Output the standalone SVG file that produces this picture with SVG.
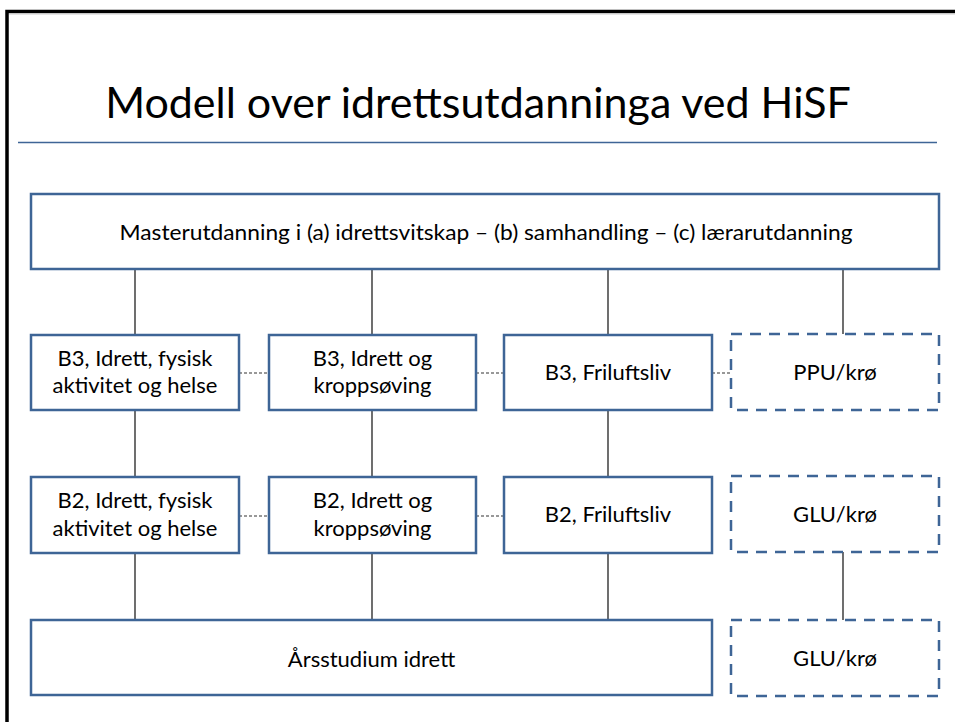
<svg xmlns="http://www.w3.org/2000/svg" width="955" height="722" viewBox="0 0 955 722">
<style>
.box{fill:#fff;stroke:#3E6596;stroke-width:2.5}
.dbox{fill:#fff;stroke:#3E6596;stroke-width:2.5;stroke-dasharray:11 8}
.t{font-family:Lato,"Liberation Sans",sans-serif;font-size:22px;fill:#000;text-anchor:middle}
.c{stroke:#222;stroke-width:1.3;fill:none}
.d{stroke:#333;stroke-width:1.2;stroke-dasharray:3 2;fill:none}
</style>
<rect width="955" height="722" fill="#fff"/>
<path d="M7,730 V11.5 H960" fill="none" stroke="#000" stroke-width="3.5"/>
<path d="M9,14 H960" stroke="#ccc" stroke-width="1"/>
<text x="478" y="118" style="font-family:Lato,'Liberation Sans',sans-serif;font-size:43px;text-anchor:middle;fill:#000">Modell over idrettsutdanninga ved HiSF</text>
<line x1="18" y1="142.5" x2="937" y2="142.5" stroke="#3E6596" stroke-width="1.5"/>
<g id="connectors">
<path class="c" d="M135,270V335M372,270V335M608,270V335M843,270V334"/>
<path class="c" d="M135,410V477M372,410V477M608,410V477"/>
<path class="c" d="M135,553V620M372,553V620M608,553V620M843,552V620"/>
<path class="d" d="M239,373H269M476,373H504M712,373H731M239,516H269M476,516H504"/>
</g>
<g id="master"><rect class="box" x="31" y="194" width="908" height="75"/><text class="t" x="486" y="240" textLength="733" lengthAdjust="spacingAndGlyphs">Masterutdanning i (a) idrettsvitskap – (b) samhandling – (c) lærarutdanning</text></g>
<g id="b3-ifah"><rect class="box" x="31" y="335" width="208" height="75"/><text class="t" x="135" y="366">B3, Idrett, fysisk</text><text class="t" x="135" y="393">aktivitet og helse</text></g>
<g id="b3-ik"><rect class="box" x="269" y="335" width="207" height="75"/><text class="t" x="372.5" y="366">B3, Idrett og</text><text class="t" x="372.5" y="393">kroppsøving</text></g>
<g id="b3-fl"><rect class="box" x="504" y="335" width="208" height="75"/><text class="t" x="608" y="380">B3, Friluftsliv</text></g>
<g id="ppu"><rect class="dbox" x="731" y="334" width="208" height="76"/><text class="t" x="835" y="380">PPU/krø</text></g>
<g id="b2-ifah"><rect class="box" x="31" y="477" width="208" height="76"/><text class="t" x="135" y="508">B2, Idrett, fysisk</text><text class="t" x="135" y="536">aktivitet og helse</text></g>
<g id="b2-ik"><rect class="box" x="269" y="477" width="207" height="76"/><text class="t" x="372.5" y="508">B2, Idrett og</text><text class="t" x="372.5" y="536">kroppsøving</text></g>
<g id="b2-fl"><rect class="box" x="504" y="477" width="208" height="76"/><text class="t" x="608" y="522">B2, Friluftsliv</text></g>
<g id="glu1"><rect class="dbox" x="731" y="476" width="208" height="76"/><text class="t" x="835" y="522">GLU/krø</text></g>
<g id="arsstudium"><rect class="box" x="31" y="620" width="681" height="75"/><text class="t" x="371.5" y="667">Årsstudium idrett</text></g>
<g id="glu2"><rect class="dbox" x="731" y="620" width="208" height="76"/><text class="t" x="835" y="666">GLU/krø</text></g>
</svg>
